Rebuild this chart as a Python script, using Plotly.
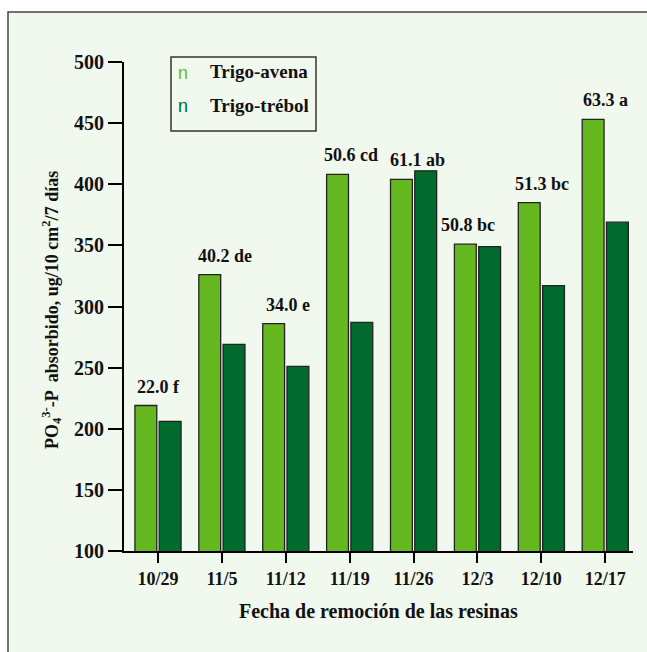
import plotly.graph_objects as go

# ---- data ----
fechas = ["10/29", "11/5", "11/12", "11/19", "11/26", "12/3", "12/10", "12/17"]
trigo_avena = [219, 326, 286, 408, 404, 351, 385, 453]
trigo_trebol = [206, 269, 251, 287, 411, 349, 317, 369]
etiquetas = ["22.0 f", "40.2 de", "34.0 e", "50.6 cd", "61.1 ab", "50.8 bc", "51.3 bc", "63.3 a"]
y_ticks = [100, 150, 200, 250, 300, 350, 400, 450, 500]
series_names = ["Trigo-avena", "Trigo-trébol"]

# ---- style ----
LIGHT = "#66b821"
DARK = "#006b2d"
BG = "#f1f8ee"
FONT = "Liberation Serif"
INK = "#111111"

W, H = 647, 652
L, R, T, B = 124, 14, 62, 101
pw = W - L - R
ph = H - T - B


def px_x(p):
    return (p - L) / pw


def px_y(p):
    return (H - B - p) / ph


fig = go.Figure()
fig.add_trace(go.Bar(x=fechas, y=trigo_avena, name=series_names[0],
                     marker=dict(color=LIGHT, line=dict(color="#222222", width=1.3))))
fig.add_trace(go.Bar(x=fechas, y=trigo_trebol, name=series_names[1],
                     marker=dict(color=DARK, line=dict(color="#222222", width=1.3))))

annotations = []
label_xshift = [1, 3, 2, 1, 4, -9, 1, 0]
for i, (f, v, t) in enumerate(zip(fechas, trigo_avena, etiquetas)):
    annotations.append(dict(x=f, y=v, xref="x", yref="y", text=t, showarrow=False,
                            yanchor="middle", yshift=19, xshift=label_xshift[i],
                            font=dict(family=FONT, size=18, color=INK, weight="bold")))

# axis titles
annotations.append(dict(xref="paper", yref="paper", x=px_x(51), y=px_y(310),
                        text="PO<sub>4</sub><sup>3-</sup>-P  absorbido, ug/10 cm<sup>2</sup>/7 días",
                        textangle=-90, showarrow=False, xanchor="center", yanchor="middle",
                        font=dict(family=FONT, size=18, color=INK, weight="bold")))
annotations.append(dict(xref="paper", yref="paper", x=0.5, y=px_y(611),
                        text="Fecha de remoción de las resinas", showarrow=False,
                        xanchor="center", yanchor="middle",
                        font=dict(family=FONT, size=20, color=INK, weight="bold")))

# legend (markers rendered as "n" glyphs like the original)
for name, col, yy in [(series_names[0], LIGHT, 73), (series_names[1], DARK, 106)]:
    annotations.append(dict(xref="paper", yref="paper", x=px_x(183), y=px_y(yy), text="n",
                            showarrow=False, xanchor="center", yanchor="middle",
                            font=dict(family="Liberation Sans", size=18, color=col)))
    annotations.append(dict(xref="paper", yref="paper", x=px_x(208), y=px_y(yy - 1), text=name,
                            showarrow=False, xanchor="left", yanchor="middle",
                            font=dict(family=FONT, size=19, color=INK, weight="bold")))

shapes = [
    dict(type="rect", xref="paper", yref="paper", layer="below",
         x0=px_x(8), x1=px_x(680), y0=px_y(690), y1=px_y(12),
         fillcolor=BG, line=dict(color="#444444", width=1.5)),
    dict(type="rect", xref="paper", yref="paper", layer="above",
         x0=px_x(171), x1=px_x(316), y0=px_y(131), y1=px_y(57),
         fillcolor="rgba(0,0,0,0)", line=dict(color="#333333", width=1.5)),
]

fig.update_layout(
    width=W, height=H,
    margin=dict(l=L, r=R, t=T, b=B, pad=0),
    paper_bgcolor="white", plot_bgcolor="rgba(0,0,0,0)",
    barmode="group", bargap=0.24, bargroupgap=0.1,
    showlegend=False,
    annotations=annotations, shapes=shapes,
    font=dict(family=FONT, color=INK),
)
fig.update_xaxes(type="category", range=[-0.532, 7.434], showline=True, linecolor="black",
                 linewidth=2, ticks="outside", ticklen=10, tickwidth=2, tickcolor="black",
                 showgrid=False, zeroline=False,
                 tickfont=dict(family=FONT, size=18, color=INK, weight="bold"))
fig.update_yaxes(range=[100, 500], tickvals=y_ticks, showline=True, linecolor="black",
                 linewidth=2, ticks="outside", ticklen=14, tickwidth=2, tickcolor="black",
                 showgrid=False, zeroline=False,
                 tickfont=dict(family=FONT, size=20, color=INK, weight="bold"))

fig.write_html("out.html",
               config={"displayModeBar": False},
               post_script="document.body.style.margin='0px';document.body.style.overflow='hidden';")
